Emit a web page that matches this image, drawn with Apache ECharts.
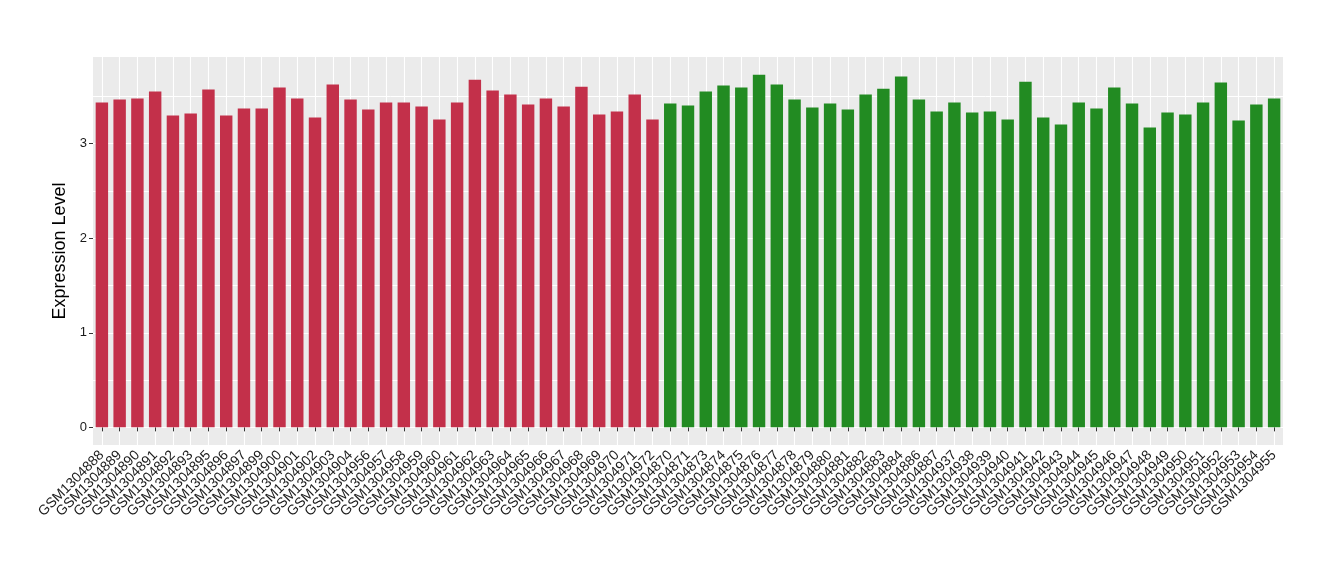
<!DOCTYPE html>
<html>
<head>
<meta charset="utf-8">
<script src="https://cdn.jsdelivr.net/npm/echarts@6/dist/echarts.min.js"></script>
<style>html,body{margin:0;padding:0;background:#fff}#c{width:1340px;height:580px}</style>
</head>
<body>
<div id="c"></div>
<script>
const groupACategories = ["GSM1304888","GSM1304889","GSM1304890","GSM1304891","GSM1304892","GSM1304893","GSM1304895","GSM1304896","GSM1304897","GSM1304899","GSM1304900","GSM1304901","GSM1304902","GSM1304903","GSM1304904","GSM1304956","GSM1304957","GSM1304958","GSM1304959","GSM1304960","GSM1304961","GSM1304962","GSM1304963","GSM1304964","GSM1304965","GSM1304966","GSM1304967","GSM1304968","GSM1304969","GSM1304970","GSM1304971","GSM1304972"];
const groupAValues = [3.436,3.467,3.478,3.552,3.298,3.320,3.573,3.298,3.372,3.372,3.594,3.478,3.277,3.626,3.467,3.362,3.436,3.436,3.394,3.256,3.436,3.678,3.562,3.520,3.415,3.478,3.394,3.604,3.309,3.341,3.520,3.256];
const groupBCategories = ["GSM1304870","GSM1304871","GSM1304873","GSM1304874","GSM1304875","GSM1304876","GSM1304877","GSM1304878","GSM1304879","GSM1304880","GSM1304881","GSM1304882","GSM1304883","GSM1304884","GSM1304886","GSM1304887","GSM1304937","GSM1304938","GSM1304939","GSM1304940","GSM1304941","GSM1304942","GSM1304943","GSM1304944","GSM1304945","GSM1304946","GSM1304947","GSM1304948","GSM1304949","GSM1304950","GSM1304951","GSM1304952","GSM1304953","GSM1304954","GSM1304955"];
const groupBValues = [3.425,3.404,3.552,3.615,3.594,3.731,3.626,3.467,3.383,3.425,3.362,3.520,3.583,3.710,3.467,3.341,3.436,3.330,3.341,3.256,3.657,3.277,3.203,3.436,3.372,3.594,3.425,3.172,3.330,3.309,3.436,3.647,3.246,3.415,3.478];
const yTickValues = [0,1,2,3];
const yMinorValues = [0.5,1.5,2.5,3.5];
const yTitle = "Expression Level";
const colorA = "#C3304A";
const colorB = "#228B22";

const categories = groupACategories.concat(groupBCategories);
const barData = groupAValues.map(v => ({value: v, itemStyle: {color: colorA}}))
  .concat(groupBValues.map(v => ({value: v, itemStyle: {color: colorB}})));

const allVals = groupAValues.concat(groupBValues);
const dMax = Math.max(...allVals);
const yMin = 0 - dMax * 0.05;
const yMax = dMax * 1.05;

const font = 'Liberation Sans, Arial, sans-serif';
const chart = echarts.init(document.getElementById('c'), null, {renderer: 'canvas'});
chart.setOption({
  animation: false,
  grid: {left: 93, right: 57, top: 57, bottom: 135, show: true, backgroundColor: '#EBEBEB', borderWidth: 0},
  xAxis: {
    type: 'category',
    data: categories,
    axisLine: {show: false},
    axisTick: {show: true, alignWithLabel: true, length: 4, lineStyle: {color: '#333333', width: 1}},
    splitLine: {show: true, alignWithLabel: true, lineStyle: {color: '#FFFFFF', width: 1.1}},
    axisLabel: {interval: 0, rotate: 45, margin: 8, color: '#1a1a1a', fontSize: 14, fontFamily: font}
  },
  yAxis: [
    {
      type: 'value',
      min: yMin,
      max: yMax,
      name: yTitle,
      nameLocation: 'middle',
      nameGap: 14,
      nameTextStyle: {fontSize: 18, color: '#000', fontFamily: font},
      axisLine: {show: false},
      axisTick: {show: true, length: 4, customValues: yTickValues, lineStyle: {color: '#333333'}},
      axisLabel: {customValues: yTickValues, margin: 6, color: '#1a1a1a', fontSize: 13, fontFamily: font},
      splitLine: {show: true, lineStyle: {color: '#FFFFFF', width: 1.1}}
    },
    {
      type: 'value',
      position: 'left',
      min: yMin,
      max: yMax,
      axisLine: {show: false},
      axisTick: {show: false, customValues: yMinorValues},
      axisLabel: {show: false, customValues: yMinorValues},
      splitLine: {show: true, lineStyle: {color: '#FFFFFF', width: 1}}
    }
  ],
  series: [
    {
      type: 'bar',
      yAxisIndex: 0,
      data: barData,
      barCategoryGap: '30%',
      z: 3
    }
  ]
});
</script>
</body>
</html>
